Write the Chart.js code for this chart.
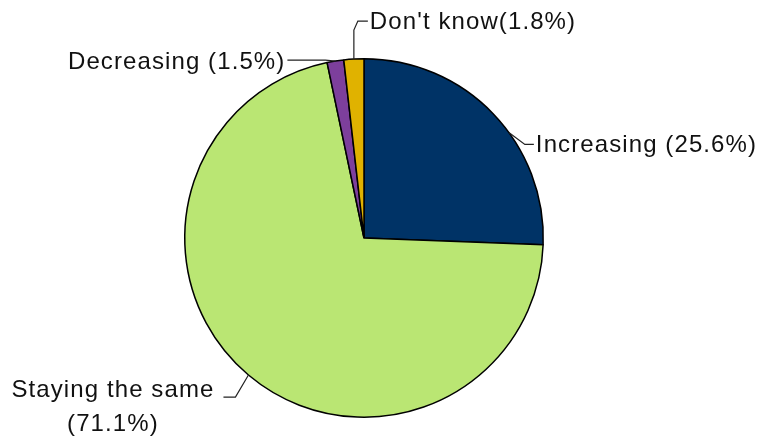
<!DOCTYPE html>
<html>
<head>
<meta charset="utf-8">
<script src="https://cdn.jsdelivr.net/npm/chart.js@4/dist/chart.umd.min.js"></script>
<style>
  html, body { margin: 0; padding: 0; background: #fff; }
  #wrap { width: 766px; height: 440px; position: relative; }
</style>
</head>
<body>
<div id="wrap"><canvas id="chart"></canvas></div>
<script>
// slices, clockwise from 12 o'clock
const categories = ["Increasing", "Staying the same", "Decreasing", "Don't know"];
const values = [25.6, 71.1, 1.5, 1.8];
const separators = [" ", " ", " ", ""];
const colors = ["#003366", "#BAE673", "#7D3F9C", "#E0B200"];

// leader lines: where on the slice arc they start (0..1 of its span),
// then the bends as offsets from that point
const leaders = [
  { at: 0.585, path: [[16, 12], [25, 12]], side: "left" },
  { at: 0.5, path: [[-13, 22], [-25, 22]], side: "block" },
  { at: 0.5, path: [[-10, -1], [-48, -1]], side: "right" },
  { at: 0.5, path: [[0, -29], [4, -38], [14, -38]], side: "left" },
];

function labelText(i) {
  return categories[i] + separators[i] + "(" + values[i].toFixed(1) + "%)";
}

const calloutPlugin = {
  id: "callouts",
  afterDatasetsDraw(chart) {
    const ctx = chart.ctx;
    const arcs = chart.getDatasetMeta(0).data;
    ctx.save();
    ctx.font = "24px 'Liberation Sans', Arial, sans-serif";
    ctx.letterSpacing = "1.1px";
    ctx.fillStyle = "#111";
    ctx.strokeStyle = "#222";
    ctx.lineWidth = 1.2;
    ctx.textBaseline = "middle";
    arcs.forEach((arc, i) => {
      const lead = leaders[i];
      const a = arc.startAngle + (arc.endAngle - arc.startAngle) * lead.at;
      const sx = arc.x + arc.outerRadius * Math.cos(a);
      const sy = arc.y + arc.outerRadius * Math.sin(a);
      ctx.beginPath();
      ctx.moveTo(sx, sy);
      let ex = sx, ey = sy;
      lead.path.forEach(([dx, dy]) => {
        ex = sx + dx;
        ey = sy + dy;
        ctx.lineTo(ex, ey);
      });
      ctx.stroke();

      if (lead.side === "left") {
        ctx.textAlign = "left";
        ctx.fillText(labelText(i), ex + 2, ey + 1);
      } else if (lead.side === "right") {
        ctx.textAlign = "right";
        ctx.fillText(labelText(i), ex - 2, ey + 2);
      } else {
        // two centred lines to the left of the leader
        const lines = [categories[i], "(" + values[i].toFixed(1) + "%)"];
        const w = Math.max(...lines.map((l) => ctx.measureText(l).width));
        const cx = ex - 9 - w / 2;
        ctx.textAlign = "center";
        ctx.fillText(lines[0], cx, ey - 7);
        ctx.fillText(lines[1], cx, ey + 27);
      }
    });
    ctx.restore();
  },
};

new Chart(document.getElementById("chart"), {
  type: "pie",
  data: {
    labels: categories,
    datasets: [
      {
        data: values,
        backgroundColor: colors,
        borderColor: "#000",
        borderWidth: 1.5,
        hoverOffset: 0,
      },
    ],
  },
  options: {
    responsive: true,
    maintainAspectRatio: false,
    animation: false,
    events: [],
    layout: {
      padding: { top: 58, bottom: 22, left: 184, right: 222 },
    },
    plugins: {
      legend: { display: false },
      tooltip: { enabled: false },
    },
  },
  plugins: [calloutPlugin],
});
</script>
</body>
</html>
